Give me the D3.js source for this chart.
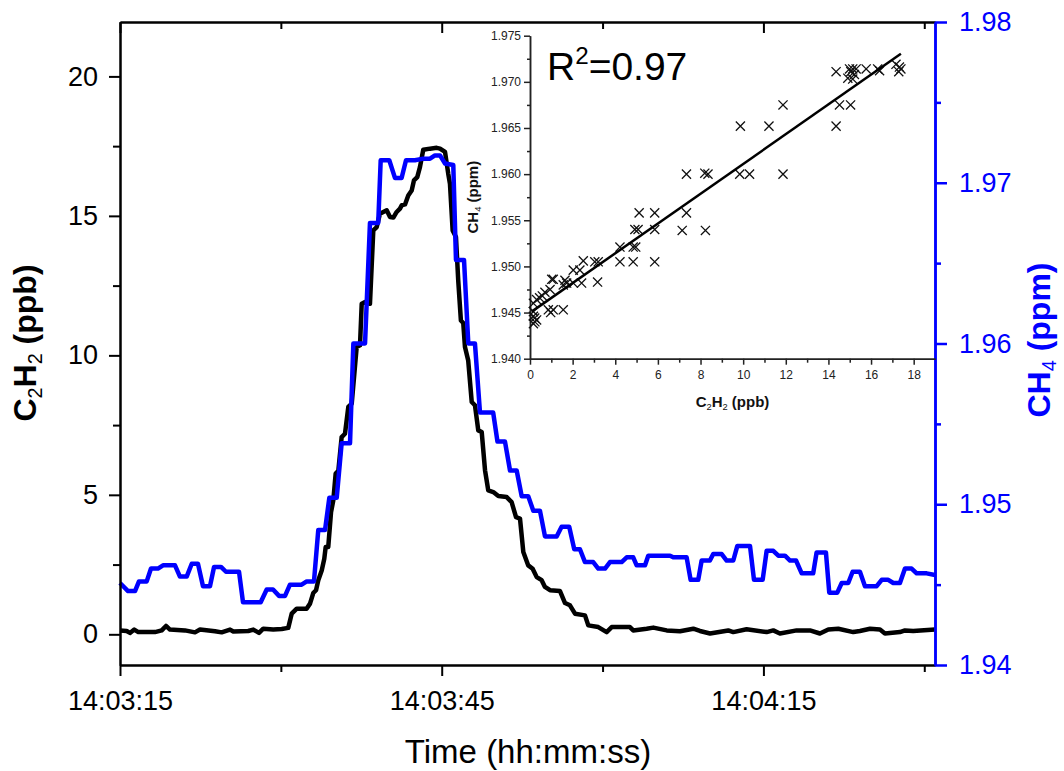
<!DOCTYPE html>
<html>
<head>
<meta charset="utf-8">
<script src="https://cdn.jsdelivr.net/npm/d3@7"></script>
<style>
    body { margin: 0; background: #ffffff; }
    svg { display: block; }
    text { white-space: pre; }
</style>
</head>
<body>
<svg id="chart" width="1064" height="771"></svg>
<script>
// C2H2 trace, seconds after 14:03:15 and ppb
const c2h2Time = [0, 0.62, 0.93, 1.33, 1.71, 3.26, 3.89, 4.29, 4.66, 6.06,
    6.99, 7.46, 8.86, 9.48, 10.26, 10.57, 11.96, 12.43, 12.96, 13.36,
    14.29, 15.08, 15.69, 16.01, 16.48, 17.40, 17.72, 18.02, 18.28, 18.49,
    18.81, 19.05, 19.18, 19.42, 19.68, 19.89, 20.11, 20.36, 20.67, 20.98,
    21.29, 21.61, 22.07, 22.38, 22.54, 22.85, 23.31, 23.62, 23.94, 24.24,
    24.87, 25.18, 25.49, 25.80, 26.11, 26.27, 26.58, 26.88, 27.20, 27.41,
    27.72, 27.97, 28.28, 28.91, 29.53, 29.84, 30.31, 30.61, 30.77, 31.02,
    31.33, 31.54, 31.79, 32.01, 32.17, 32.47, 32.80, 33.10, 33.41, 33.73,
    34.04, 34.34, 34.81, 35.28, 36.06, 36.52, 36.93, 37.30, 37.61, 38.07,
    38.48, 38.86, 39.32, 39.63, 40.10, 41.03, 41.50, 41.96, 42.43, 43.36,
    43.67, 44.60, 45.38, 45.85, 47.55, 47.86, 49.11, 49.73, 50.98, 52.22,
    53.46, 54.08, 55.02, 56.72, 57.19, 58.43, 60.30, 60.92, 61.54, 63.10,
    64.34, 65.27, 66.05, 66.98, 68.38, 69.00, 69.94, 70.87, 71.33, 72.73,
    73.20, 73.97, 76.0];
const c2h2Ppb = [0.14, 0.12, 0.05, 0.17, 0.08, 0.08, 0.14, 0.30, 0.17, 0.14,
    0.07, 0.17, 0.11, 0.07, 0.17, 0.10, 0.12, 0.17, 0.05, 0.20,
    0.17, 0.19, 0.23, 0.74, 0.92, 0.92, 1.10, 1.48, 1.58, 1.94,
    2.29, 2.71, 3.13, 3.13, 4.38, 4.80, 5.76, 5.86, 7.07, 7.19,
    8.15, 8.27, 10.30, 10.36, 11.85, 11.91, 11.85, 14.48, 14.60, 15.08,
    15.20, 14.96, 14.94, 15.14, 15.26, 15.38, 15.41, 15.73, 15.91, 16.27,
    16.39, 16.75, 17.37, 17.41, 17.44, 17.41, 17.29, 16.51, 16.15, 14.48,
    14.24, 12.69, 11.25, 11.16, 10.30, 9.82, 8.33, 8.21, 7.31, 7.25,
    5.88, 5.16, 5.10, 4.96, 4.92, 4.74, 4.20, 4.15, 2.95, 2.47,
    2.35, 2.05, 1.94, 1.70, 1.58, 1.55, 1.12, 1.04, 0.74, 0.68,
    0.32, 0.26, 0.08, 0.26, 0.26, 0.14, 0.20, 0.24, 0.14, 0.11,
    0.20, 0.12, 0.03, 0.14, 0.08, 0.18, 0.08, 0.14, 0.03, 0.14,
    0.14, 0.03, 0.17, 0.20, 0.08, 0.12, 0.20, 0.17, 0.03, 0.08,
    0.14, 0.12, 0.17];

// CH4 trace, seconds after 14:03:15 and ppm
const ch4Time = [0, 0.75, 1.40, 1.77, 2.49, 2.89, 3.54, 4.01, 5.13, 5.59,
    6.22, 6.69, 7.27, 7.74, 8.39, 8.77, 9.42, 9.88, 11.10, 11.47,
    13.12, 13.68, 14.27, 14.83, 15.39, 15.85, 16.94, 17.41, 18.09, 18.49,
    19.12, 19.52, 20.21, 20.67, 21.45, 21.76, 22.85, 23.31, 24.08, 24.31,
    25.11, 25.64, 26.26, 26.67, 27.51, 28.28, 28.91, 29.37, 29.84, 30.31,
    31.08, 31.33, 32.08, 32.48, 33.10, 33.57, 34.80, 35.20, 35.90, 36.37,
    36.99, 37.46, 38.07, 38.54, 39.16, 39.63, 40.72, 41.18, 41.89, 42.36,
    42.89, 43.36, 44.13, 44.60, 45.23, 45.69, 46.78, 47.25, 47.86, 48.18,
    48.96, 49.26, 51.29, 51.59, 52.84, 53.21, 53.92, 54.24, 55.01, 55.32,
    56.11, 56.57, 57.19, 57.56, 58.75, 59.12, 59.93, 60.30, 60.92, 61.39,
    62.01, 62.48, 63.04, 63.57, 64.64, 64.96, 65.83, 66.14, 66.89, 67.30,
    67.91, 68.32, 69.00, 69.47, 70.56, 71.03, 71.64, 72.11, 72.73, 73.20,
    73.82, 74.29, 75.22, 76.0];
const ch4Ppm = [1.9451, 1.9446, 1.9446, 1.9452, 1.9452, 1.9460, 1.9460, 1.9462, 1.9462, 1.9455,
    1.9455, 1.9463, 1.9463, 1.9449, 1.9449, 1.9461, 1.9461, 1.9458, 1.9458, 1.9439,
    1.9439, 1.9447, 1.9447, 1.9443, 1.9443, 1.9450, 1.9450, 1.9452, 1.9452, 1.9484,
    1.9484, 1.9504, 1.9504, 1.9538, 1.9538, 1.9600, 1.9600, 1.9675, 1.9675, 1.9714,
    1.9714, 1.9703, 1.9703, 1.9714, 1.9714, 1.9715, 1.9715, 1.9717, 1.9717, 1.9712,
    1.9711, 1.9652, 1.9652, 1.9600, 1.9600, 1.9557, 1.9557, 1.9539, 1.9539, 1.9521,
    1.9521, 1.9505, 1.9505, 1.9496, 1.9496, 1.9480, 1.9480, 1.9486, 1.9486, 1.9472,
    1.9472, 1.9464, 1.9464, 1.9460, 1.9460, 1.9464, 1.9464, 1.9467, 1.9467, 1.9462,
    1.9462, 1.9468, 1.9468, 1.9467, 1.9467, 1.9453, 1.9453, 1.9465, 1.9465, 1.9469,
    1.9469, 1.9465, 1.9465, 1.9474, 1.9474, 1.9453, 1.9453, 1.9471, 1.9471, 1.9468,
    1.9468, 1.9465, 1.9465, 1.9457, 1.9457, 1.9470, 1.9470, 1.9445, 1.9445, 1.9451,
    1.9451, 1.9458, 1.9458, 1.9449, 1.9449, 1.9453, 1.9453, 1.9451, 1.9451, 1.9460,
    1.9460, 1.9457, 1.9457, 1.9456];

// inset: CH4 against C2H2
const scatterC2h2 = [7.34, 8.20, 8.35, 5.12, 5.85, 7.34, 4.92, 5.07, 5.85, 7.14,
    8.23, 4.22, 4.84, 4.96, 4.22, 4.84, 5.85, 2.50, 3.04, 3.20,
    2.03, 2.34, 1.09, 1.02, 1.64, 1.72, 2.03, 2.42, 3.17, 1.56,
    0.70, 0.94, 0.31, 0.16, 0.86, 1.09, 1.56, 0.97, 0.16, 0.16,
    0.23, 0.16, 0.31, 14.36, 14.99, 15.14, 15.30, 14.91, 15.14, 15.77,
    16.31, 16.40, 17.17, 17.33, 17.30, 11.87, 14.52, 15.04, 9.87, 11.21,
    14.36, 9.84, 10.30, 11.87, 0.22, 0.45, 0.58, 15.22, 15.05, 17.40];
const scatterCh4 = [1.9600, 1.9601, 1.9600, 1.9558, 1.9558, 1.9558, 1.9540, 1.9540, 1.9540, 1.9539,
    1.9539, 1.9521, 1.9521, 1.9521, 1.9505, 1.9505, 1.9505, 1.9506, 1.9505, 1.9505,
    1.9496, 1.9496, 1.9486, 1.9486, 1.9485, 1.9482, 1.9482, 1.9482, 1.9483, 1.9480,
    1.9472, 1.9475, 1.9464, 1.9460, 1.9453, 1.9453, 1.9453, 1.9450, 1.9451, 1.9446,
    1.9440, 1.9438, 1.9442, 1.9711, 1.9714, 1.9714, 1.9714, 1.9704, 1.9703, 1.9714,
    1.9714, 1.9712, 1.9719, 1.9716, 1.9711, 1.9675, 1.9675, 1.9675, 1.9652, 1.9652,
    1.9652, 1.9600, 1.9600, 1.9600, 1.9444, 1.9466, 1.9468, 1.9708, 1.9711, 1.9714];
const fitIntercept = 1.94497;
const fitSlope = 0.001613;
const fitRange = [0.08, 17.4];
const rSquared = '0.97';

const timeStart = '14:03:15';
const timeEnd = '14:04:31';
const timeMajor = ['14:03:15', '14:03:45', '14:04:15'];
const timeMinor = ['14:03:30', '14:04:00', '14:04:30'];
const leftMajor = [0, 5, 10, 15, 20];
const leftMinor = [2.5, 7.5, 12.5, 17.5];
const rightMajor = [1.94, 1.95, 1.96, 1.97, 1.98];
const rightMinor = [1.945, 1.955, 1.965, 1.975];
const insetXMajor = [0, 2, 4, 6, 8, 10, 12, 14, 16, 18];
const insetXMinor = [1, 3, 5, 7, 9, 11, 13, 15, 17];
const insetYMajor = [1.940, 1.945, 1.950, 1.955, 1.960, 1.965, 1.970, 1.975];
const insetYMinor = [1.9425, 1.9475, 1.9525, 1.9575, 1.9625, 1.9675, 1.9725];

(function() {
    const font = "'Liberation Sans', Arial, Helvetica, sans-serif";
    const blue = '#0000ff';
    const plot = {left: 120, right: 935, top: 22, bottom: 665};
    const inset = {left: 530, right: 935, top: 35.7, bottom: 358.7};

    let svg = d3.select('#chart').attr('font-family', font);

    const parse_time = d3.timeParse('%H:%M:%S');
    const t0 = parse_time(timeStart);
    const at = (s) => new Date(t0.getTime() + s * 1000);

    let x = d3.scaleTime().domain([t0, parse_time(timeEnd)]).range([plot.left, plot.right]),
        y_left = d3.scaleLinear().domain([-1.1, 21.95]).range([plot.bottom, plot.top]),
        y_right = d3.scaleLinear().domain([1.94, 1.98]).range([plot.bottom, plot.top]);

    let ix = d3.scaleLinear().domain([0, 19]).range([inset.left, inset.right]),
        iy = d3.scaleLinear().domain([1.940, 1.975]).range([inset.bottom, inset.top]);

    // text with sub/superscript pieces, subscripts drawn at normal weight
    let rich_text = function(text, parts, size) {
        let shift = 0;
        parts.forEach(function(p) {
            let kind = p[1] || '';
            let target = kind === 'sub' ? size * 0.2 : kind === 'sup' ? -size * 0.4 : 0;
            let span = text.append('tspan')
                .attr('dy', target - shift)
                .attr('font-size', kind ? size * 0.62 : size)
                .text(p[0]);
            if (kind === 'sub') span.attr('font-weight', 'normal');
            shift = target;
        });
    };

    let style_axis = function(g, color, width, size) {
        g.attr('font-family', font).attr('font-size', size);
        g.select('.domain').attr('stroke', color).attr('stroke-width', width);
        g.selectAll('.tick line').attr('stroke', color).attr('stroke-width', width);
        g.selectAll('.tick text').attr('fill', color);
    };

    // traces
    let c2h2 = c2h2Time.map((t, i) => ({t: at(t), v: c2h2Ppb[i]}));
    let ch4 = ch4Time.map((t, i) => ({t: at(t), v: ch4Ppm[i]}));

    svg.append('path').datum(c2h2)
        .attr('fill', 'none')
        .attr('stroke', '#000000')
        .attr('stroke-width', 4.5)
        .attr('stroke-linejoin', 'round')
        .attr('d', d3.line().x((d) => x(d.t)).y((d) => y_left(d.v)));

    svg.append('path').datum(ch4)
        .attr('fill', 'none')
        .attr('stroke', blue)
        .attr('stroke-width', 4.5)
        .attr('stroke-linejoin', 'round')
        .attr('d', d3.line().x((d) => x(d.t)).y((d) => y_right(d.v)));

    // main axes
    let bottom = svg.append('g')
        .attr('transform', 'translate(0,' + plot.bottom + ')')
        .call(d3.axisBottom(x).tickValues(timeMajor.map(parse_time))
            .tickFormat(d3.timeFormat('%H:%M:%S')).tickSize(11).tickSizeOuter(0).tickPadding(15));
    style_axis(bottom, '#000000', 2, 27);
    let bottom_minor = svg.append('g')
        .attr('transform', 'translate(0,' + plot.bottom + ')')
        .call(d3.axisBottom(x).tickValues(timeMinor.map(parse_time)).tickFormat('').tickSize(7).tickSizeOuter(0));
    style_axis(bottom_minor, '#000000', 2, 10);

    let top = svg.append('g')
        .attr('transform', 'translate(0,' + plot.top + ')')
        .call(d3.axisBottom(x).tickValues(timeMajor.map(parse_time)).tickFormat('').tickSize(11).tickSizeOuter(0));
    style_axis(top, '#000000', 2, 10);
    let top_minor = svg.append('g')
        .attr('transform', 'translate(0,' + plot.top + ')')
        .call(d3.axisBottom(x).tickValues(timeMinor.map(parse_time)).tickFormat('').tickSize(7).tickSizeOuter(0));
    style_axis(top_minor, '#000000', 2, 10);

    let left = svg.append('g')
        .attr('transform', 'translate(' + plot.left + ',0)')
        .call(d3.axisLeft(y_left).tickValues(leftMajor).tickSize(11).tickSizeOuter(0).tickPadding(11));
    style_axis(left, '#000000', 2, 27);
    let left_minor = svg.append('g')
        .attr('transform', 'translate(' + plot.left + ',0)')
        .call(d3.axisLeft(y_left).tickValues(leftMinor).tickFormat('').tickSize(7).tickSizeOuter(0));
    style_axis(left_minor, '#000000', 2, 10);

    let right = svg.append('g')
        .attr('transform', 'translate(' + plot.right + ',0)')
        .call(d3.axisRight(y_right).tickValues(rightMajor).tickFormat(d3.format('.2f'))
            .tickSize(12).tickSizeOuter(0).tickPadding(12));
    style_axis(right, blue, 2.5, 27);
    let right_minor = svg.append('g')
        .attr('transform', 'translate(' + plot.right + ',0)')
        .call(d3.axisRight(y_right).tickValues(rightMinor).tickFormat('').tickSize(6).tickSizeOuter(0));
    style_axis(right_minor, blue, 2.5, 10);

    // main titles
    svg.append('text')
        .attr('x', 528)
        .attr('y', 763)
        .attr('text-anchor', 'middle')
        .attr('font-size', 33)
        .attr('fill', '#000000')
        .text('Time (hh:mm:ss)');

    let left_title = svg.append('text')
        .attr('transform', 'translate(36,343) rotate(-90)')
        .attr('text-anchor', 'middle')
        .attr('font-weight', 'bold')
        .attr('fill', '#000000');
    rich_text(left_title, [['C'], ['2', 'sub'], ['H'], ['2', 'sub'], [' (ppb)']], 32);

    let right_title = svg.append('text')
        .attr('transform', 'translate(1050,340) rotate(-90)')
        .attr('text-anchor', 'middle')
        .attr('font-weight', 'bold')
        .attr('fill', blue);
    rich_text(right_title, [['CH'], ['4', 'sub'], [' (ppm)']], 32);

    // inset
    let ileft = svg.append('g')
        .attr('transform', 'translate(' + inset.left + ',0)')
        .call(d3.axisLeft(iy).tickValues(insetYMajor).tickFormat(d3.format('.3f'))
            .tickSize(6).tickSizeOuter(0).tickPadding(3));
    style_axis(ileft, '#222222', 1.5, 12);
    let ileft_minor = svg.append('g')
        .attr('transform', 'translate(' + inset.left + ',0)')
        .call(d3.axisLeft(iy).tickValues(insetYMinor).tickFormat('').tickSize(3).tickSizeOuter(0));
    style_axis(ileft_minor, '#222222', 1.5, 10);

    let ibottom = svg.append('g')
        .attr('transform', 'translate(0,' + inset.bottom + ')')
        .call(d3.axisBottom(ix).tickValues(insetXMajor).tickSize(6).tickSizeOuter(0).tickPadding(6));
    style_axis(ibottom, '#222222', 1.5, 12);
    let ibottom_minor = svg.append('g')
        .attr('transform', 'translate(0,' + inset.bottom + ')')
        .call(d3.axisBottom(ix).tickValues(insetXMinor).tickFormat('').tickSize(4).tickSizeOuter(0));
    style_axis(ibottom_minor, '#222222', 1.5, 10);

    let points = scatterC2h2.map((v, i) => ({x: v, y: scatterCh4[i]}));
    let times = d3.symbolTimes || {
        draw: function(context, size) {
            let r = Math.sqrt(size) * 0.6;
            context.moveTo(-r, -r); context.lineTo(r, r);
            context.moveTo(-r, r); context.lineTo(r, -r);
        }
    };
    svg.append('g').selectAll('path')
        .data(points)
        .enter().append('path')
        .attr('transform', (d) => 'translate(' + ix(d.x) + ',' + iy(d.y) + ')')
        .attr('d', d3.symbol(times, 56))
        .attr('fill', 'none')
        .attr('stroke', '#111111')
        .attr('stroke-width', 1.3);

    svg.append('path')
        .datum(fitRange.map((v) => ({x: v, y: fitIntercept + fitSlope * v})))
        .attr('fill', 'none')
        .attr('stroke', '#000000')
        .attr('stroke-width', 2.5)
        .attr('d', d3.line().x((d) => ix(d.x)).y((d) => iy(d.y)));

    let inset_x_title = svg.append('text')
        .attr('x', (inset.left + inset.right) / 2)
        .attr('y', 407)
        .attr('text-anchor', 'middle')
        .attr('font-weight', 'bold')
        .attr('fill', '#111111');
    rich_text(inset_x_title, [['C'], ['2', 'sub'], ['H'], ['2', 'sub'], [' (ppb)']], 15);

    let inset_y_title = svg.append('text')
        .attr('transform', 'translate(478,' + (inset.top + inset.bottom) / 2 + ') rotate(-90)')
        .attr('text-anchor', 'middle')
        .attr('font-weight', 'bold')
        .attr('fill', '#111111');
    rich_text(inset_y_title, [['CH'], ['4', 'sub'], [' (ppm)']], 15);

    let r2 = svg.append('text')
        .attr('x', 547)
        .attr('y', 80)
        .attr('fill', '#000000');
    rich_text(r2, [['R'], ['2', 'sup'], ['=' + rSquared]], 39);
}());
</script>
</body>
</html>
